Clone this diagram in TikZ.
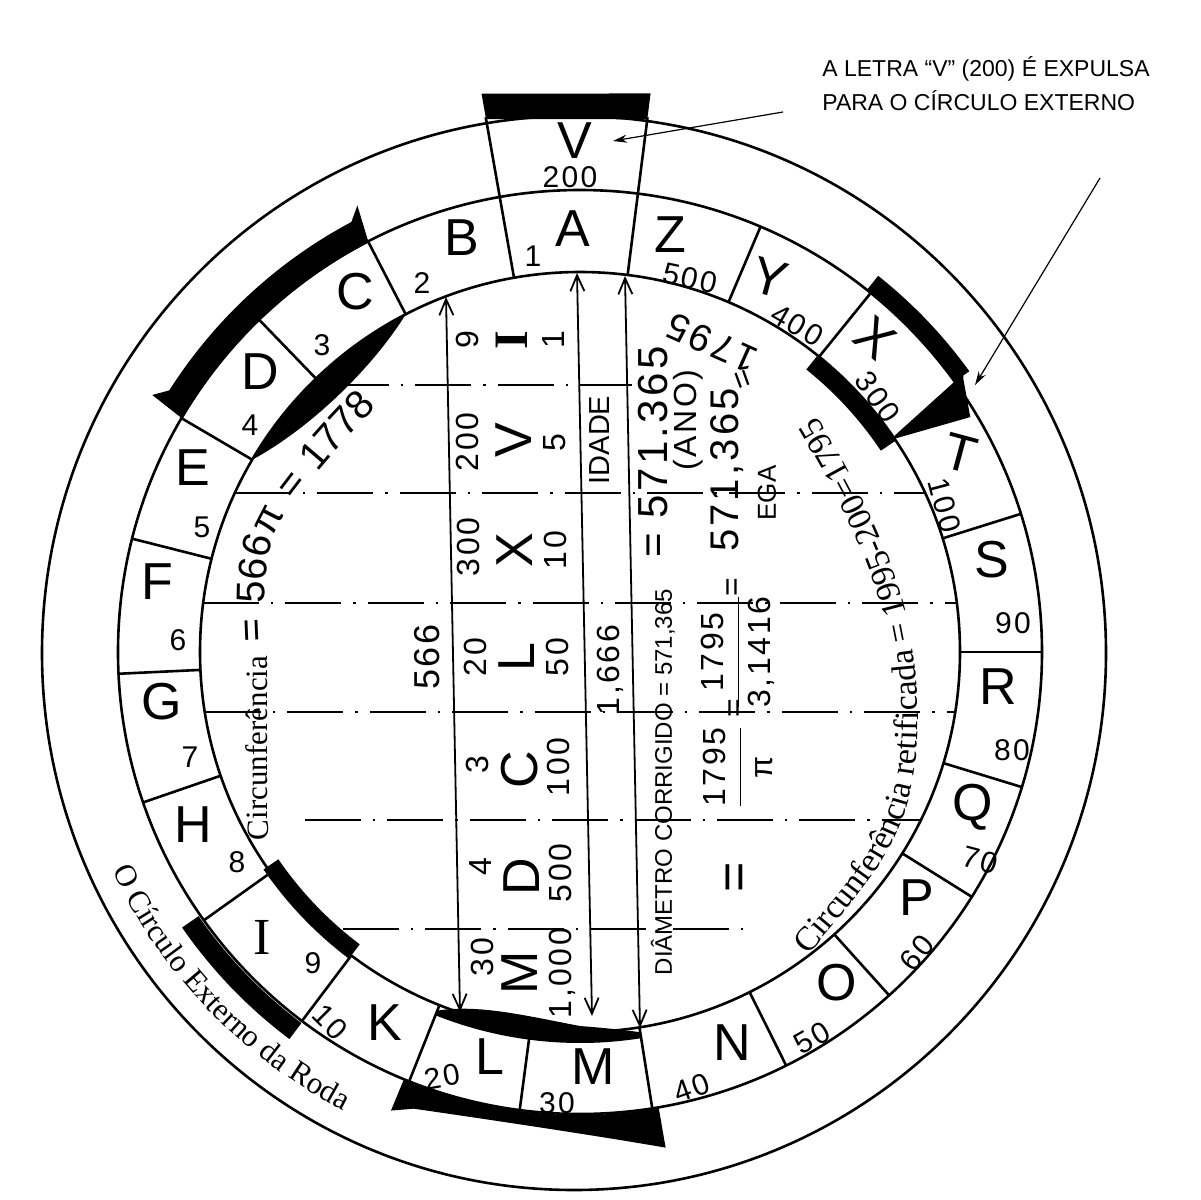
\documentclass[tikz,border=0pt]{standalone}
\usepackage{fontspec}
\setmainfont{Liberation Serif}
\setsansfont{Liberation Sans}
\newfontfamily\handfont[LetterSpace=8]{Liberation Sans}
\usetikzlibrary{arrows.meta,decorations.text}

\begin{document}
\begin{tikzpicture}[x=0.5pt, y=0.5pt,
    ring/.style={line width=1.3pt},
    dashdot/.style={line width=1pt, dash pattern=on 28pt off 6pt on 1.2pt off 6pt},
    dim/.style={<->, >={Straight Barb[length=8pt,width=7pt]}, line width=0.9pt},
    note/.style={->, >={Stealth[length=7pt,width=4pt]}, line width=0.6pt},
    letter/.style={font=\handfont\fontsize{26}{26}\selectfont, inner sep=0pt},
    num/.style={font=\handfont\fontsize{15}{15}\selectfont, inner sep=0pt},
    rowletter/.style={rotate=90, font=\handfont\fontsize{26}{26}\selectfont, inner sep=0pt},
    rownum/.style={rotate=90, font=\handfont\fontsize{16}{16}\selectfont, inner sep=0pt},
    printed/.style={rotate=90, font=\sffamily\fontsize{#1}{#1}\selectfont, inner sep=0pt}
]
\useasboundingbox (0,0) rectangle (1201,-1200);

% outer circle of the wheel
\draw[ring] (574,-653) ellipse (532 and 537);

\begin{scope}[shift={(580,-652)}]
% ring of letters
\draw[ring] (0,0) circle (380);
\draw[ring] (0,0) circle (462);
\foreach \a in {82.8,100,117.3,134,149.6,165.8,182.7,199,215.5,233,248.3,262.5,279,296.5,312,328,343,0,17.4,51,67}
  \draw[ring] (\a:380) -- (\a:462);
\draw[ring] (34.3:381) -- (35.8:472);
\draw[ring] (34.3:381) -- (31.2:456);
% V pushed out of the ring
\draw[ring] (100:462) -- (100:543);
\draw[ring] (82.8:462) -- (82.8:539);
\fill (100:541) -- (100:567) -- (82.8:563) -- (82.8:537) -- cycle;
% C and D
\fill (117.3:461) arc[start angle=117.3, end angle=149.6, radius=461] -- (149:499) -- (147.5:487)
  arc[start angle=147.5, end angle=118, radius=487] -- (116.5:499) -- cycle;
\fill (117.3:380) arc[start angle=117.3, end angle=149.6, radius=380] .. controls (141:352) and (127:350) .. cycle;
% I
\fill (214.7:464) arc[start angle=214.7, end angle=233.1, radius=464] -- (233.1:484)
  arc[start angle=233.1, end angle=214.7, radius=484] -- cycle;
\fill (214.5:366) arc[start angle=214.5, end angle=233, radius=366] -- (233:384)
  arc[start angle=233, end angle=214.5, radius=384] -- cycle;
% X
\fill (35.8:462) arc[start angle=35.8, end angle=51.6, radius=462] -- (51.6:480)
  arc[start angle=51.6, end angle=35.8, radius=480] -- cycle;
\fill (33.8:362) arc[start angle=33.8, end angle=51.3, radius=362] -- (51.3:380)
  arc[start angle=51.3, end angle=33.8, radius=380] -- cycle;
\fill (34.3:381) -- (35.8:472) -- (31.2:456) -- cycle;
% L and M
\fill (248.3:386) .. controls (254:366) and (262:368) .. (270:374) .. controls (274:377) and (277:381) .. (279:385)
  -- (279:391) arc[start angle=279, end angle=248.3, radius=391] -- cycle;
\fill (247.6:463) arc[start angle=247.6, end angle=279.8, radius=463] -- (279.8:503)
  .. controls (272:484) and (260:476) .. (250:486) -- (247.6:496) -- cycle;
% outer label
\path[decorate, decoration={text along path, text align=left,
  text={|\rmfamily\fontsize{15.5}{15.5}\selectfont|O Círculo Externo da Roda}}]
  (205:516) arc[start angle=205, end angle=250, radius=516];
\end{scope}

% letters of the ring
\node[letter] (cV) at (575,-141) {V};
\node[num] (nV) at (570,-177) {200};
\node[letter] (cA) at (573,-229) {A};
\node[num] (nA) at (533,-256) {1};
\node[letter] (cB) at (462,-238) {B};
\node[num] (nB) at (422,-283) {2};
\node[letter] (cC) at (355,-292) {C};
\node[num] (nC) at (322,-345) {3};
\node[letter] (cD) at (260,-372) {D};
\node[num] (nD) at (250,-425) {4};
\node[letter] (cE) at (193,-468) {E};
\node[num] (nE) at (202,-527) {5};
\node[letter] (cF) at (157,-582) {F};
\node[num] (nF) at (178,-640) {6};
\node[letter] (cG) at (162,-702) {G};
\node[num] (nG) at (190,-757) {7};
\node[letter] (cH) at (193,-825) {H};
\node[num] (nH) at (237,-862) {8};
\node[letter, font=\rmfamily\fontsize{26}{26}\selectfont] (cI) at (262,-937) {I};
\node[num] (nI) at (313,-963) {9};
\node[letter] (cK) at (385,-1023) {K};
\node[num, rotate=-45] (nK) at (330,-1022) {10};
\node[letter] (cL) at (490,-1057) {L};
\node[num, rotate=10] (nL) at (442,-1077) {20};
\node[letter] (cM) at (593,-1067) {M};
\node[num] (nM) at (557,-1103) {30};
\node[letter] (cN) at (732,-1043) {N};
\node[num, rotate=20] (nN) at (692,-1088) {40};
\node[letter] (cO) at (837,-983) {O};
\node[num, rotate=30] (nO) at (812,-1038) {50};
\node[letter] (cP) at (917,-898) {P};
\node[num, rotate=50] (nP) at (917,-953) {60};
\node[letter] (cQ) at (973,-807) {Q};
\node[num, rotate=-15] (nQ) at (980,-860) {70};
\node[letter] (cR) at (998,-687) {R};
\node[num] (nR) at (1012,-750) {80};
\node[letter] (cS) at (992,-560) {S};
\node[num] (nS) at (1013,-623) {90};
\node[letter, rotate=-15] (cT) at (960,-453) {T};
\node[num, rotate=-75] (nT) at (945,-505) {100};
\node[letter, rotate=-40] (cX) at (875,-338) {X};
\node[num, rotate=-55] (nX) at (878,-397) {300};
\node[letter, rotate=-15] (cY) at (770,-278) {Y};
\node[num, rotate=-30] (nY) at (797,-325) {400};
\node[letter] (cZ) at (670,-235) {Z};
\node[num, rotate=-12] (nZ) at (690,-278) {500};

% guide lines inside the wheel
\foreach \y/\xa/\xb in {385/333/632, 493/235/925, 603/203/957, 712/205/955, 820/305/921, 929/343/750}
  \draw[dashdot] (\xa,-\y) -- (\xb,-\y);

\coordinate (d1t) at (446,-297);
\coordinate (d1b) at (460,-1012);
\coordinate (d2t) at (577,-273);
\coordinate (d2b) at (592,-1016);
\coordinate (d3t) at (625,-276);
\coordinate (d3b) at (640,-1028);
\draw[dim] (d1t) -- (d1b);
\draw[dim] (d2t) -- (d2b);
\draw[dim] (d3t) -- (d3b);

% table of letters
\node[rownum] (r1a) at (467,-340) {9};
\node[rowletter, font=\rmfamily\bfseries\fontsize{24}{24}\selectfont] (r1b) at (512,-340) {I};
\node[rownum] (r1c) at (553,-340) {1};
\node[rownum] (r2a) at (467,-442) {200};
\node[rowletter] (r2b) at (514,-440) {V};
\node[rownum] (r2c) at (555,-443) {5};
\node[rownum] (r3a) at (468,-547) {300};
\node[rowletter] (r3b) at (515,-550) {X};
\node[rownum] (r3c) at (555,-550) {10};
\node[rownum] (r4a) at (475,-657) {20};
\node[rowletter] (r4b) at (517,-657) {L};
\node[rownum] (r4c) at (557,-657) {50};
\node[rownum] (r5a) at (477,-765) {3};
\node[rowletter] (r5b) at (520,-770) {C};
\node[rownum] (r5c) at (558,-767) {100};
\node[rownum] (r6a) at (480,-867) {4};
\node[rowletter] (r6b) at (522,-877) {D};
\node[rownum] (r6c) at (560,-873) {500};
\node[rownum] (r7a) at (482,-957) {30};
\node[rowletter] (r7b) at (520,-973) {M};
\node[rownum] (r7c) at (562,-973) {1,000};

\node[rownum, font=\handfont\fontsize{18}{18}\selectfont] (sum566) at (427,-657) {566};
\node[rownum] (age) at (610,-670) {1,666};
\node[printed=14.5] (idade) at (600,-440) {IDADE};
\node[printed=12] (diam) at (663,-782) {DIÂMETRO CORRIGIDO = 571,365};

% year column
\node[rownum, font=\handfont\fontsize{21}{21}\selectfont] (yr1) at (653,-452) {= 571.365};
\node[rownum] (ano) at (688,-420) {(ANO)};
\node[rownum, font=\handfont\fontsize{20}{20}\selectfont] (yr2) at (727,-470) {571,365};
\node[rownum, rotate=20] (yreq) at (745,-378) {=};
\node[rownum, rotate=66, font=\handfont\fontsize{19}{19}\selectfont] (yr3) at (712,-343) {1795};
\node[printed=13] (ega) at (767,-493) {EGA};

% division column
\node[rownum, font=\handfont\fontsize{26}{26}\selectfont] (eq1) at (739,-877) {=};
\node[rownum] (fr1) at (738,-767) {$\displaystyle\frac{\mbox{1795}}{\mbox{π}}$};
\node[rownum] (eq2) at (737,-708) {=};
\node[rownum] (fr2) at (738,-652) {$\displaystyle\frac{\mbox{1795}}{\mbox{3,1416}}$};
\node[rownum] (eq3) at (735,-587) {=};

% circumference labels
\path[decorate, decoration={text along path, text align=left,
  text={|\rmfamily\fontsize{15.5}{15.5}\selectfont|Circunferência|\handfont\fontsize{20}{20}\selectfont| = 566π = 1778}}]
  (268,-840) -- (267,-660) .. controls (263,-590) and (262,-550) .. (285,-515) .. controls (305,-485) and (335,-450) .. (370,-414);
\path[decorate, decoration={text along path, text align=left,
  text={|\rmfamily\fontsize{17}{17}\selectfont|Circunferência retificada = 1995-200=1795}}]
  (808,-955) .. controls (880,-870) and (918,-830) .. (918,-720) .. controls (918,-600) and (880,-520) .. (800,-388);

% note on the expelled letter
\node[anchor=north west, align=left, inner sep=0pt, font=\sffamily\fontsize{11.5}{17}\selectfont] (note) at (822,-56)
  {A LETRA “V” (200) É EXPULSA\\PARA O CÍRCULO EXTERNO};
\coordinate (vtail) at (783,-112);
\coordinate (vhead) at (613,-141);
\coordinate (xtail) at (1100,-178);
\coordinate (xhead) at (975,-385);
\draw[note] (vtail) -- (vhead);
\draw[note] (xtail) -- (xhead);
\end{tikzpicture}
\end{document}
